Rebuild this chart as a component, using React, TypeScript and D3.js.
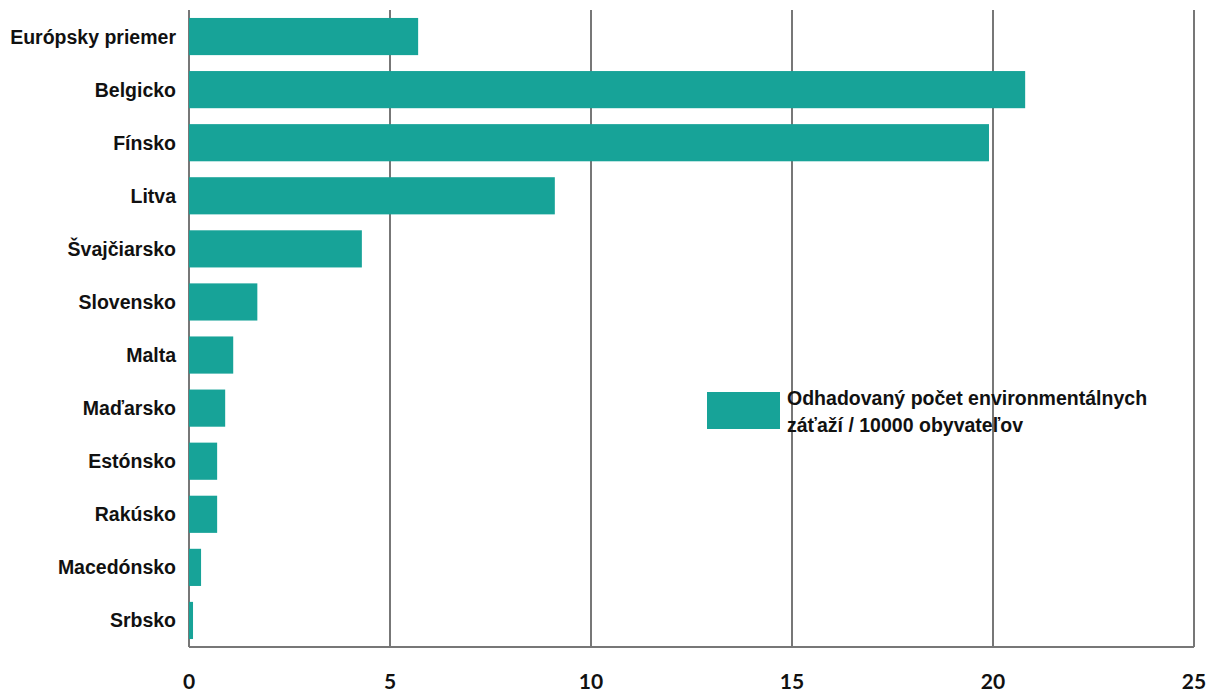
import React from "react";
import * as d3 from "d3";

const categories = [
  "Európsky priemer",
  "Belgicko",
  "Fínsko",
  "Litva",
  "Švajčiarsko",
  "Slovensko",
  "Malta",
  "Maďarsko",
  "Estónsko",
  "Rakúsko",
  "Macedónsko",
  "Srbsko",
];
const values = [5.7, 20.8, 19.9, 9.1, 4.3, 1.7, 1.1, 0.9, 0.7, 0.7, 0.3, 0.1];
const xTicks = [0, 5, 10, 15, 20, 25];
const legendLines = ["Odhadovaný počet environmentálnych", "záťaží / 10000 obyvateľov"];

const W = 1211;
const H = 691;
const COLOR = "#17a398";

export default function App() {
  const left = 189;
  const right = 1194;
  const top = 10;
  const bottom = 647;
  const x = d3.scaleLinear().domain([0, 25]).range([left, right]);
  const y = d3
    .scaleBand<string>()
    .domain(categories)
    .range([top, bottom])
    .paddingInner(0.3)
    .paddingOuter(0.15);

  return (
    <svg
      width={W}
      height={H}
      style={{ position: "absolute", left: 0, top: 0, background: "#fff" }}
    >
      {xTicks.map((t) => (
        <line
          key={"g" + t}
          x1={x(t)}
          x2={x(t)}
          y1={top}
          y2={bottom}
          stroke="#777"
          strokeWidth={2}
        />
      ))}
      <line x1={left} x2={right} y1={bottom} y2={bottom} stroke="#777" strokeWidth={2} />
      {categories.map((c, i) => (
        <rect
          key={c}
          x={x(0)}
          y={y(c)}
          width={x(values[i]) - x(0)}
          height={y.bandwidth()}
          fill={COLOR}
        />
      ))}
      {categories.map((c) => (
        <text
          key={"l" + c}
          x={176}
          y={(y(c) as number) + y.bandwidth() / 2}
          textAnchor="end"
          dominantBaseline="central"
          fontFamily="'Liberation Sans', Arial, sans-serif"
          fontWeight="bold"
          fontSize={19.5}
          fill="#111"
        >
          {c}
        </text>
      ))}
      {xTicks.map((t) => (
        <text
          key={"t" + t}
          x={x(t)}
          y={680}
          textAnchor="middle"
          dominantBaseline="central"
          fontFamily="Lato, sans-serif"
          fontWeight="bold"
          fontSize={21}
          fill="#111"
        >
          {t}
        </text>
      ))}
      <rect x={707} y={392} width={73} height={37} fill={COLOR} />
      <g transform="translate(787,0) scale(0.93,1)">
        {legendLines.map((l, i) => (
          <text
            key={"leg" + i}
            x={0}
            y={405 + i * 27}
            fontFamily="'Liberation Sans', Arial, sans-serif"
            fontWeight="bold"
            fontSize={21}
            fill="#111"
          >
            {l}
          </text>
        ))}
      </g>
    </svg>
  );
}
